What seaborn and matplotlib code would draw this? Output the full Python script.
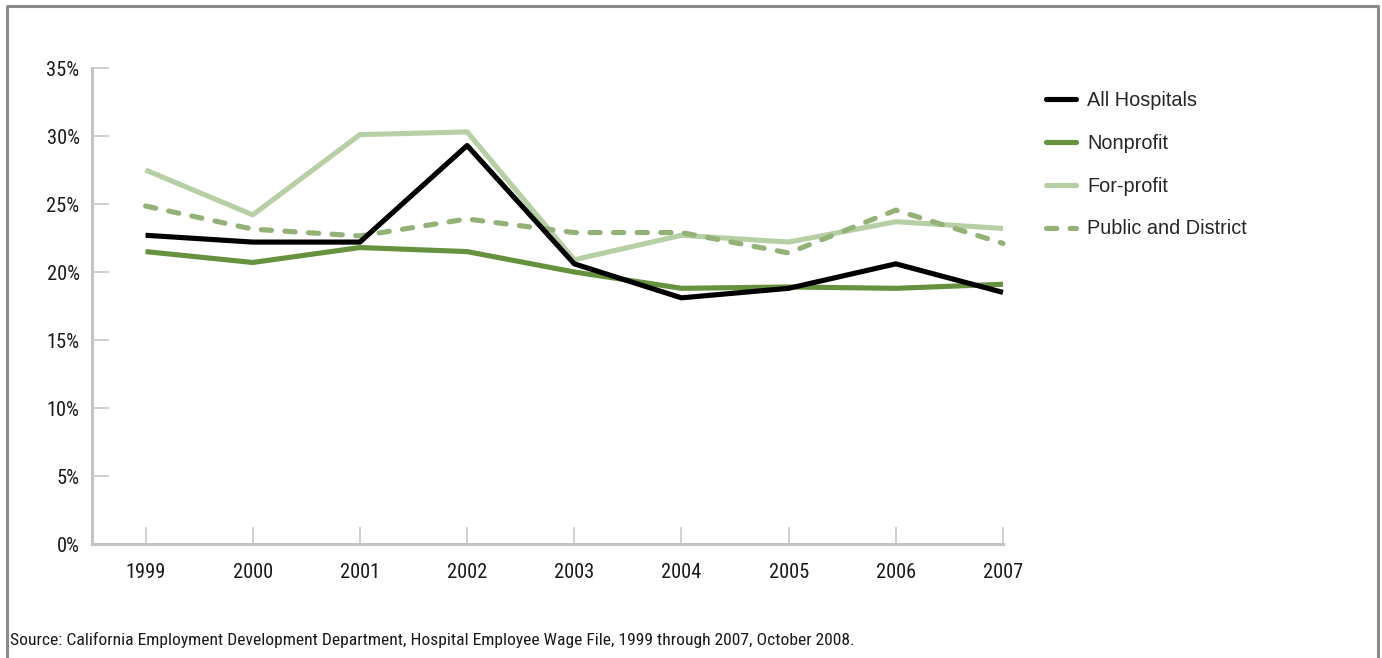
import matplotlib
matplotlib.use("Agg")
import matplotlib.pyplot as plt
import matplotlib.lines as mlines
from matplotlib import font_manager
import seaborn as sns
import pandas as pd

years = [1999, 2000, 2001, 2002, 2003, 2004, 2005, 2006, 2007]
all_hospitals = [22.7, 22.2, 22.2, 29.3, 20.6, 18.1, 18.8, 20.6, 18.5]
nonprofit = [21.5, 20.7, 21.8, 21.5, 20.0, 18.8, 18.9, 18.8, 19.1]
for_profit = [27.5, 24.2, 30.1, 30.3, 20.9, 22.7, 22.2, 23.7, 23.2]
public_district = [24.85, 23.15, 22.65, 23.9, 22.9, 22.9, 21.4, 24.55, 22.1]

series_names = ["All Hospitals", "Nonprofit", "For-profit", "Public and District"]
series_values = [all_hospitals, nonprofit, for_profit, public_district]
y_ticks = [0, 5, 10, 15, 20, 25, 30, 35]
source_note = ("Source: California Employment Development Department, Hospital Employee "
               "Wage File, 1999 through 2007, October 2008.")

palette = {
    "All Hospitals": "#000000",
    "Nonprofit": "#66913f",
    "For-profit": "#b7cfa5",
    "Public and District": "#94b278",
}
dash_styles = {
    "All Hospitals": "",
    "Nonprofit": "",
    "For-profit": "",
    "Public and District": (2.0, 2.6),
}

rows = []
for name, vals in zip(series_names, series_values):
    for yr, v in zip(years, vals):
        rows.append({"Year": yr, "Share": v, "Type": name})
df = pd.DataFrame(rows)

sns.set_style("white")
plt.rcParams["lines.dash_capstyle"] = "round"
plt.rcParams["lines.solid_capstyle"] = "butt"

installed = {f.name for f in font_manager.fontManager.ttflist}
narrow_choices = ["Liberation Sans Narrow", "DejaVu Sans Condensed", "Roboto Condensed",
                  "Open Sans Condensed"]
narrow_family = next((n for n in narrow_choices if n in installed), None)
if narrow_family:
    narrow = [narrow_family, "DejaVu Sans"]
    tick_size, note_size = 14.7, 12.6
else:
    narrow = ["Roboto", "DejaVu Sans"]
    tick_size, note_size = 14.0, 10.0
regular = ["Liberation Sans", "DejaVu Sans"]
plt.rcParams["font.family"] = narrow

fig = plt.figure(figsize=(13.82, 6.58), dpi=100)
W, H = 1382, 658
ax = fig.add_axes([92 / W, (H - 544) / H, (1003 - 92) / W, (544 - 68) / H])

# lighter series underneath, black on top
draw_order = ["For-profit", "Public and District", "Nonprofit", "All Hospitals"]
sns.lineplot(data=df, x="Year", y="Share", hue="Type", style="Type",
             hue_order=draw_order, style_order=draw_order,
             palette=palette, dashes=dash_styles, linewidth=3.7,
             legend=False, ax=ax)
for ln in ax.lines:
    ln.set_clip_on(False)

ax.set_xlim(1998.5, 2007)
ax.set_ylim(0, 35)
ax.set_xticks(years)
ax.set_xticklabels([str(y) for y in years])
ax.set_yticks(y_ticks)
ax.set_yticklabels([f"{t}%" for t in y_ticks])
ax.set_xlabel("")
ax.set_ylabel("")

spine_col = "#c4c4c4"
for side in ["top", "right"]:
    ax.spines[side].set_visible(False)
for side in ["left", "bottom"]:
    ax.spines[side].set_color(spine_col)
    ax.spines[side].set_linewidth(2.2)

ax.tick_params(axis="both", direction="in", length=12, width=1.2, color="#c8c8c8",
               labelsize=tick_size, labelcolor="#1a1a1a")
ax.tick_params(axis="y", pad=9)
ax.tick_params(axis="x", pad=14)
ax.yaxis.set_ticks_position("left")
ax.xaxis.set_ticks_position("bottom")
for lbl in ax.get_xticklabels() + ax.get_yticklabels():
    lbl.set_family(narrow)

handles = []
for name in series_names:
    ls = (0, dash_styles[name]) if dash_styles[name] else "-"
    handles.append(mlines.Line2D([], [], color=palette[name], linewidth=3.7,
                                 linestyle=ls, dash_capstyle="round",
                                 solid_capstyle="round"))
fig.legend(handles, series_names, loc="upper left",
           bbox_to_anchor=(1046 / W, (H - 91) / H), frameon=False,
           borderpad=0, borderaxespad=0, handlelength=1.52, handletextpad=0.56,
           labelspacing=1.2, prop={"family": regular, "size": 14.3})

fig.text(10 / W, (H - 640) / H, source_note, ha="left", va="center",
         fontsize=note_size, family=narrow, color="#1a1a1a")

# panel frame (left, top, right edges)
frame_col = "#8a8a8a"
fig.add_artist(mlines.Line2D([7 / W, 7 / W], [0, (H - 6) / H], color=frame_col,
                             linewidth=2.2, transform=fig.transFigure))
fig.add_artist(mlines.Line2D([6 / W, 1379 / W], [(H - 6) / H, (H - 6) / H],
                             color=frame_col, linewidth=2.2, transform=fig.transFigure))
fig.add_artist(mlines.Line2D([1378 / W, 1378 / W], [0, (H - 6) / H], color=frame_col,
                             linewidth=2.2, transform=fig.transFigure))

fig.savefig("out.png", dpi=100)
